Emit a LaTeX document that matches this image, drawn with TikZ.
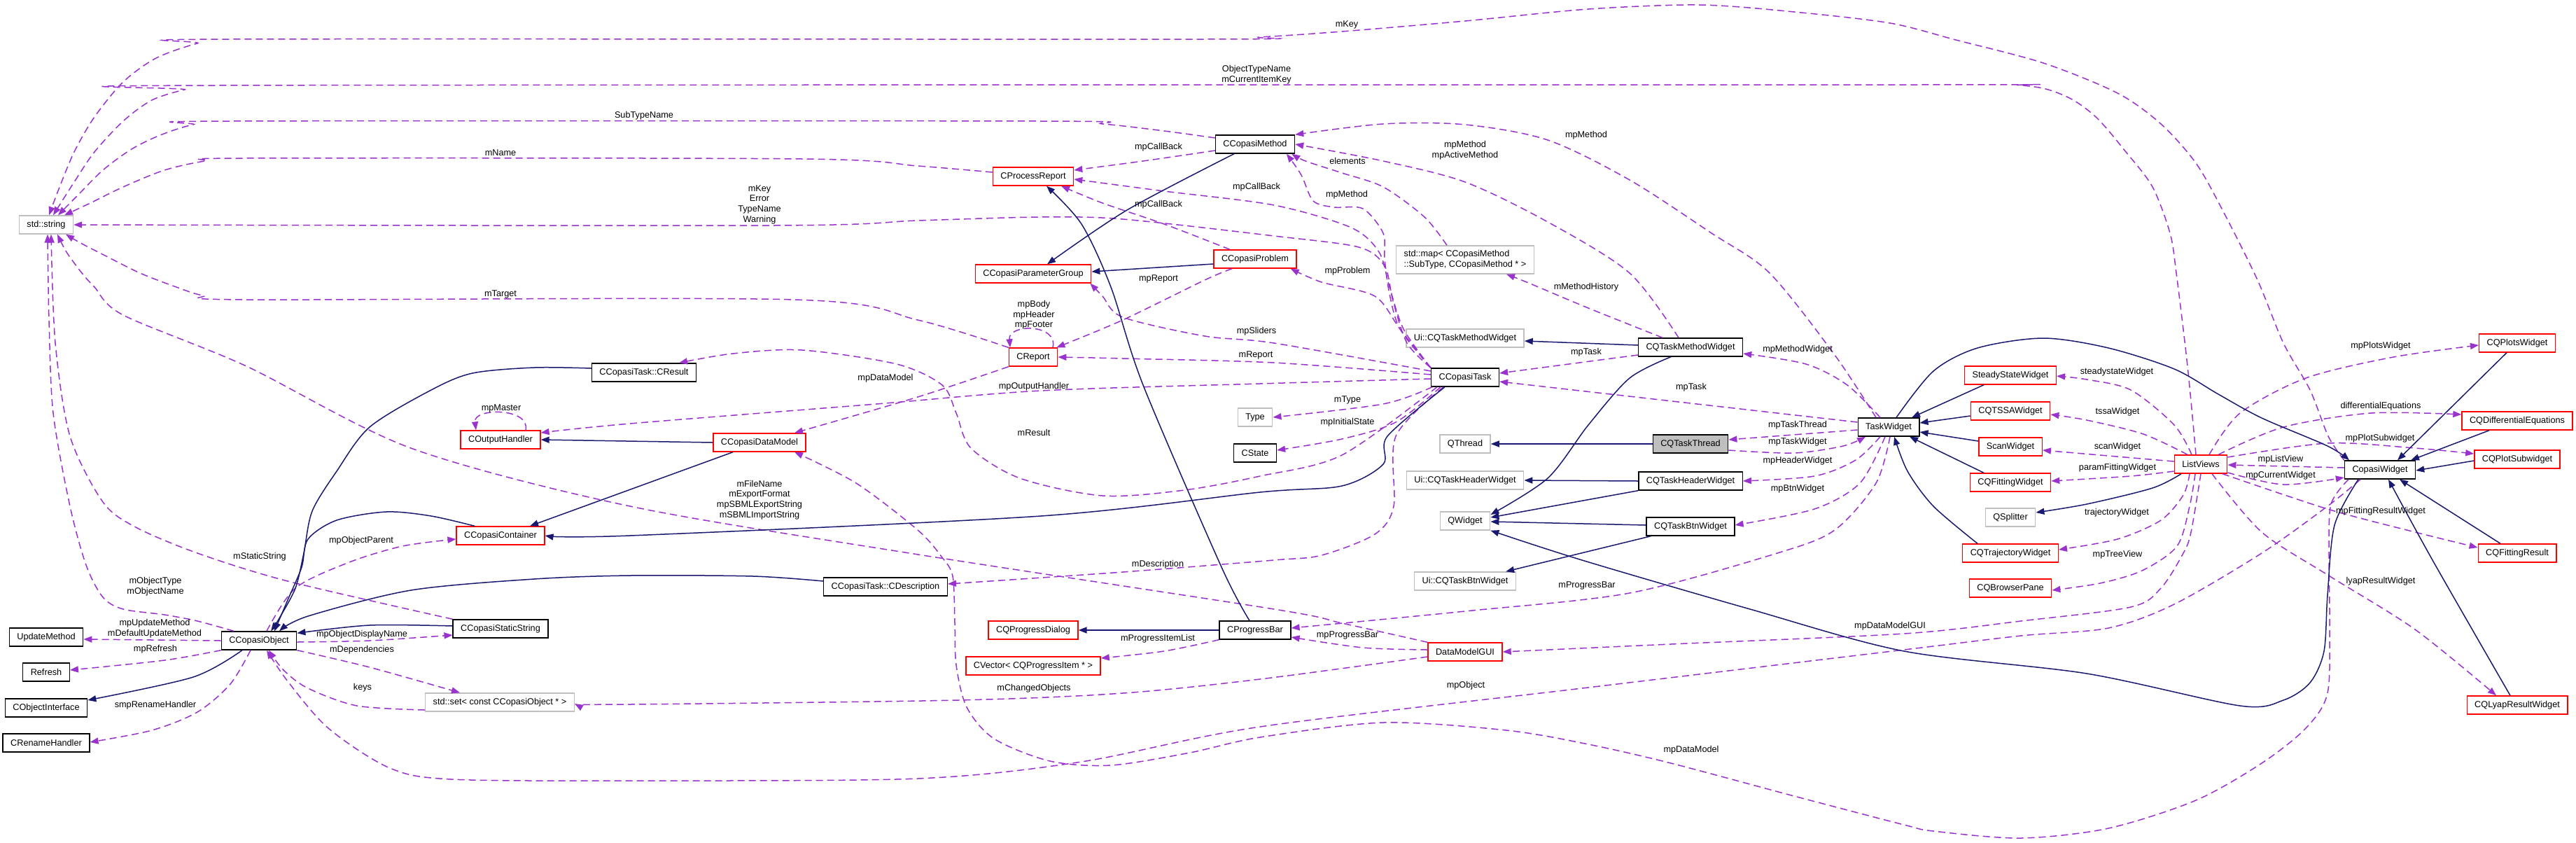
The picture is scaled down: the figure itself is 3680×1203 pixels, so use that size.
\documentclass[tikz,border=0pt]{standalone}
\usepackage{fontspec}
\setmainfont{Liberation Sans}
\usetikzlibrary{arrows.meta}
\definecolor{useC}{HTML}{9A32CD}
\definecolor{inhC}{HTML}{191970}
\definecolor{grayB}{HTML}{BFBFBF}
\newcommand\dxfont{\fontsize{12.7}{14.7}\selectfont}
\begin{document}
\begin{tikzpicture}[x=1pt,y=-1pt,
  boxbase/.style={draw, rectangle, line width=1.4pt, minimum height=26pt, inner xsep=11pt, inner ysep=0pt, font=\dxfont, fill=white},
  blkbox/.style={boxbase, draw=black},
  redbox/.style={boxbase, draw=red},
  graybox/.style={boxbase, draw=grayB},
  lbl/.style={font=\dxfont, align=center, inner sep=0pt},
  useedge/.style={draw=useC, line width=1.5pt, dash pattern=on 10pt off 6pt, -{Triangle[length=12pt,width=9pt]}},
  inhedge/.style={draw=inhC, line width=1.5pt, -{Triangle[length=12pt,width=9pt]}},
]
\fill[white] (0,0) rectangle (3680,1203);
\useasboundingbox (0,0) rectangle (3680,1203);

% ---------------- nodes ----------------
\node[graybox] (str) at (66,321) {std::string};
\node[blkbox] (meth) at (1793,206) {CCopasiMethod};
\node[redbox] (procrep) at (1476,252) {CProcessReport};
\node[redbox] (pgroup) at (1476,391) {CCopasiParameterGroup};
\node[redbox] (prob) at (1793,370) {CCopasiProblem};
\node[graybox, align=left, minimum height=40pt] (map) at (2093,371) {std::map< CCopasiMethod\\::SubType, CCopasiMethod * >};
\node[blkbox] (result) at (920,532) {CCopasiTask::CResult};
\node[redbox] (outh) at (715,628) {COutputHandler};
\node[redbox] (cont) at (715,765) {CCopasiContainer};
\node[redbox] (report) at (1476,510) {CReport};
\node[redbox] (dm) at (1085,632) {CCopasiDataModel};
\node[graybox] (type) at (1793,596) {Type};
\node[blkbox] (state) at (1793,647) {CState};
\node[graybox] (uimeth) at (2093,483) {Ui::CQTaskMethodWidget};
\node[blkbox] (tmw) at (2415,496) {CQTaskMethodWidget};
\node[blkbox] (task) at (2093,539) {CCopasiTask};
\node[graybox] (qthread) at (2093,634) {QThread};
\node[blkbox, fill=grayB] (thread) at (2415,634) {CQTaskThread};
\node[blkbox] (tw) at (2698,610) {TaskWidget};
\node[graybox] (uihead) at (2093,686) {Ui::CQTaskHeaderWidget};
\node[blkbox] (thw) at (2415,687) {CQTaskHeaderWidget};
\node[graybox] (qwidget) at (2093,744) {QWidget};
\node[blkbox] (tbw) at (2415,752) {CQTaskBtnWidget};
\node[redbox] (plots) at (3596,490) {CQPlotsWidget};
\node[redbox] (ssw) at (2872,536) {SteadyStateWidget};
\node[redbox] (tssa) at (2872,587) {CQTSSAWidget};
\node[redbox] (de) at (3596,601) {CQDifferentialEquations};
\node[redbox] (scan) at (2872,638) {ScanWidget};
\node[redbox] (lv) at (3144,663) {ListViews};
\node[redbox] (psub) at (3596,656) {CQPlotSubwidget};
\node[blkbox] (cw) at (3400,671) {CopasiWidget};
\node[redbox] (fitw) at (2872,689) {CQFittingWidget};
\node[graybox] (split) at (2872,739) {QSplitter};
\node[redbox] (traj) at (2872,790) {CQTrajectoryWidget};
\node[redbox] (fitres) at (3596,790) {CQFittingResult};
\node[redbox] (browser) at (2872,840) {CQBrowserPane};
\node[redbox] (lyap) at (3596,1007) {CQLyapResultWidget};
\node[blkbox] (upd) at (66,910) {UpdateMethod};
\node[blkbox] (obj) at (370,915) {CCopasiObject};
\node[blkbox] (sstr) at (715,898) {CCopasiStaticString};
\node[blkbox] (refresh) at (66,960) {Refresh};
\node[blkbox] (objint) at (66,1011) {CObjectInterface};
\node[graybox] (set) at (714,1003) {std::set< const CCopasiObject * >};
\node[blkbox] (rename) at (66,1061) {CRenameHandler};
\node[blkbox] (desc) at (1265,838) {CCopasiTask::CDescription};
\node[redbox] (pdialog) at (1476,900) {CQProgressDialog};
\node[blkbox] (pbar) at (1793,900) {CProgressBar};
\node[redbox] (cvec) at (1476,951) {CVector< CQProgressItem * >};
\node[graybox] (uibtn) at (2093,830) {Ui::CQTaskBtnWidget};
\node[redbox] (dmgui) at (2093,931) {DataModelGUI};

% ---------------- usage edges (dashed) ----------------
\draw[useedge] plot[smooth,tension=0.5] coordinates {(cw.north west) (3326,623) (3300,557) (3262,490) (3225,400) (3175,300) (3137,233) (3087,177) (3025,133) (2919,90) (2794,57) (2700,33) (2563,17) (2428,7) (2269,13) (2093,30) (1917,45) (1800,53) (1721,56) (330,56) (282,62) (223,83) (176,117) (135,167) (106,217) (84,270) ([xshift=4pt]str.north)};
\draw[useedge] plot[smooth,tension=0.5] coordinates {([xshift=-7pt]lv.north) (3125,523) (3109,390) (3100,333) (3075,267) (3037,217) (2994,167) (2950,137) (2887,122) (2700,121) (305,122) (264,128) (217,143) (176,173) (135,217) (106,260) ([xshift=10pt]str.north)};
\draw[useedge] plot[smooth,tension=0.5] coordinates {([yshift=9pt]meth.west) (1663,187) (1575,177) (1487,173) (330,173) (276,178) (229,193) (188,213) (147,243) (110,280) ([xshift=17pt]str.north)};
\draw[useedge] plot[smooth,tension=0.5] coordinates {([yshift=6pt]procrep.west) (1311,237) (1146,227) (350,226) (293,230) (235,243) (176,267) (129,290) ([xshift=26pt]str.north)};
\draw[useedge] plot[smooth,tension=0.5] coordinates {(task.north west) (2010,490) (1990,430) (1978,380) (1941,353) (1820,337) (1604,313) (1487,310) (1311,315) (1105,322) (str.east)};
\draw[useedge] plot[smooth,tension=0.5] coordinates {([yshift=-9pt]meth.west) (1633,230) ([yshift=9pt]procrep.east)};
\draw[useedge] plot[smooth,tension=0.5] coordinates {(task.north west) (2005,470) (1985,410) (1970,360) (1930,325) (1820,293) (1663,273) ([yshift=-4pt]procrep.east)};
\draw[useedge] plot[smooth,tension=0.5] coordinates {([xshift=-36pt]prob.north) (1663,320) (1575,290) ([xshift=40pt]procrep.south)};
\draw[useedge] plot[smooth,tension=0.5] coordinates {([xshift=-33pt]prob.south) (1721,400) (1604,457) ([xshift=-2pt]report.north east)};
\draw[useedge] plot[smooth,tension=0.5] coordinates {(task.north west) (2000,470) (1964,423) (1888,403) ([xshift=-9pt]prob.south east)};
\draw[useedge] plot[smooth,tension=0.5] coordinates {(task.north west) (2000,470) (1985,420) (1978,370) (1976,333) (1947,298) (1906,296) (1876,287) (1859,250) ([xshift=45pt]meth.south)};
\draw[useedge] plot[smooth,tension=0.5] coordinates {([xshift=-26pt]map.north) (2035,310) (1976,267) (1917,247) (1865,230) ([xshift=-5pt]meth.south east)};
\draw[useedge] plot[smooth,tension=0.5] coordinates {([xshift=-17pt]tmw.north) (2328,390) (2211,317) (2093,260) (1976,230) (meth.east)};
\draw[useedge] plot[smooth,tension=0.5] coordinates {([xshift=-18pt]tw.north) (2621,507) (2528,390) (2445,333) (2328,257) (2211,200) (2093,178) (1976,177) (meth.north east)};
\draw[useedge] plot[smooth,tension=0.5] coordinates {([xshift=-40pt]tmw.north) (2269,440) (2181,403) ([xshift=59pt]map.south)};
\draw[useedge] plot[smooth,tension=0.5] coordinates {([yshift=9pt]task.west) (1820,490) (1721,480) (1604,453) (1575,423) ([xshift=-2pt]pgroup.south east)};
\draw[useedge] plot[smooth,tension=0.5] coordinates {([yshift=4pt]task.west) (1820,518) (1604,512) (report.east)};
\draw[useedge] plot[smooth,tension=0.5] coordinates {([yshift=-2pt]task.west) (1800,548) (1487,558) (1252,577) (900,605) ([yshift=10pt]outh.east)};
\draw[useedge] plot[smooth,tension=0.5] coordinates {([xshift=-47pt]task.south) (1976,577) (type.east)};
\draw[useedge] plot[smooth,tension=0.5] coordinates {([xshift=-35pt]task.south) (1994,603) (1917,627) ([yshift=4pt]state.east)};
\draw[useedge] ([yshift=-11pt]tmw.west) -- ([yshift=6pt]task.east);
\draw[useedge] ([yshift=7pt]tw.west) -- ([yshift=-6pt]task.east);
\draw[useedge] plot[smooth,tension=0.5] coordinates {([xshift=-12pt]tw.north) (2639,550) (2580,520) ([yshift=-9pt]tmw.east)};
\draw[useedge] ([yshift=-4pt]tw.west) -- ([yshift=6pt]thread.east);
\draw[useedge] plot[smooth,tension=0.5] coordinates {([yshift=-9pt]thread.east) (2563,647) (2633,637) ([xshift=-33pt]tw.south)};
\draw[useedge] plot[smooth,tension=0.5] coordinates {([xshift=-12pt]tw.south) (2651,657) (2592,680) (thw.east)};
\draw[useedge] plot[smooth,tension=0.5] coordinates {([xshift=-5pt]tw.south) (2657,690) (2592,727) ([yshift=2pt]tbw.east)};
\draw[useedge] plot[smooth,tension=0.5] coordinates {([xshift=2pt]tw.south) (2680,690) (2621,757) (2539,790) (2328,847) (2093,873) ([yshift=3pt]pbar.east)};
\draw[useedge] ([xshift=28pt]report.north) .. controls (1512,462) and (1440,462) .. ([xshift=-33pt]report.north);
\draw[useedge] plot[smooth,tension=0.5] coordinates {(report.north west) (1311,457) (1135,428) (352,428) (290,422) (252,410) (200,390) (150,365) (115,347) ([xshift=28pt]str.south)};
\draw[useedge] plot[smooth,tension=0.5] coordinates {(report.south west) (1311,567) ([xshift=50pt]dm.north)};
\draw[useedge] plot[smooth,tension=0.5] coordinates {([xshift=-40pt]task.south) (1917,650) (1800,680) (1692,700) (1575,708) (1457,683) (1387,640) (1366,590) (1346,550) (1281,520) (1146,500) (1047,505) ([xshift=50pt]result.north)};
\draw[useedge] plot[smooth,tension=0.5] coordinates {(dmgui.north west) (1917,890) (1820,870) (1299,790) (900,723) (587,640) (352,523) (176,450) (135,410) (117,390) (95,360) ([xshift=16pt]str.south)};
\draw[useedge] plot[smooth,tension=0.5] coordinates {([xshift=-36pt]obj.north) (282,887) (235,878) (176,870) (147,853) (123,807) (100,723) (76,590) (70,457) ([xshift=2pt]str.south)};
\draw[useedge] plot[smooth,tension=0.5] coordinates {(sstr.north west) (411,830) (282,790) (194,753) (147,717) (100,623) (79,490) ([xshift=7pt]str.south)};
\draw[useedge] plot[smooth,tension=0.5] coordinates {([xshift=11pt]obj.north) (422,840) (499,803) (575,780) ([yshift=-5pt]cont.west)};
\draw[useedge] plot[smooth,tension=0.5] coordinates {([yshift=-2pt]obj.east) (528,915) ([yshift=-9pt]sstr.west)};
\draw[useedge] plot[smooth,tension=0.5] coordinates {(obj.south east) (528,953) ([xshift=-57pt]set.north)};
\draw[useedge] plot[smooth,tension=0.5] coordinates {([yshift=-11pt]set.west) (510,1008) (440,983) (405,957) ([xshift=14pt]obj.south)};
\draw[useedge] (obj.west) -- ([yshift=-3pt]upd.east);
\draw[useedge] plot[smooth,tension=0.5] coordinates {(obj.south west) (235,943) ([yshift=3pt]refresh.east)};
\draw[useedge] plot[smooth,tension=0.5] coordinates {([xshift=-12pt]obj.south) (329,977) (282,1017) (217,1043) ([yshift=1pt]rename.east)};
\draw[useedge] ([xshift=36pt]outh.north) .. controls (758,582) and (676,582) .. ([xshift=-35pt]outh.north);
\draw[useedge] plot[smooth,tension=0.5] coordinates {([xshift=-31pt]task.south) (1994,623) (1991,723) (1964,763) (1888,793) (1820,800) (1604,817) ([yshift=4pt]desc.east)};
\draw[useedge] plot[smooth,tension=0.5] coordinates {([yshift=-7pt]dmgui.west) (1800,970) (1604,990) (1369,1000) (900,1006) ([yshift=-2pt]set.east)};
\draw[useedge] plot[smooth,tension=0.5] coordinates {([yshift=3pt]dmgui.west) (1947,925) ([yshift=-10pt]pbar.east)};
\draw[useedge] plot[smooth,tension=0.5] coordinates {(lv.south) (3130,760) (3119,790) (3087,840) (3044,867) (2887,887) (2720,905) (2387,920) (dmgui.east)};
\draw[useedge] plot[smooth,tension=0.5] coordinates {([xshift=-28pt]cw.south) (3325,723) (3231,790) (3106,863) (3012,897) (2887,908) (2720,928) (2260,983) (1800,1038) (1545,1088) (1311,1112) (900,1115) (645,1113) (557,1097) (469,1040) (411,973) ([xshift=11pt]obj.south)};
\draw[useedge] plot[smooth,tension=0.5] coordinates {([xshift=-45pt]cw.south) (3330,720) (3327,790) (3328,890) (3325,990) (3294,1040) (3231,1090) (3137,1143) (3012,1183) (2887,1197) (2762,1187) (2720,1178) (2563,1137) (2387,1090) (2269,1063) (2152,1043) (1976,1032) (1800,1053) (1700,1075) (1587,1093) (1500,1087) (1420,1055) (1381,1010) (1366,950) (1364,890) (1361,823) (1345,795) (1311,757) (1223,690) ([xshift=50pt]dm.south)};
\draw[useedge] plot[smooth,tension=0.5] coordinates {([xshift=-13pt]lv.north) (3106,607) (3044,557) (2981,542) ([yshift=-1pt]ssw.east)};
\draw[useedge] plot[smooth,tension=0.5] coordinates {([xshift=-19pt]lv.north) (3062,620) (2981,600) ([yshift=-5pt]tssa.east)};
\draw[useedge] ([yshift=4pt]lv.west) -- ([yshift=-5pt]scan.east);
\draw[useedge] plot[smooth,tension=0.5] coordinates {([yshift=-10pt]lv.west) (3044,680) ([yshift=2pt]fitw.east)};
\draw[useedge] plot[smooth,tension=0.5] coordinates {([xshift=-16pt]lv.south) (3119,707) (3087,743) (3025,770) ([yshift=5pt]traj.east)};
\draw[useedge] plot[smooth,tension=0.5] coordinates {([xshift=-8pt]lv.south) (3128,723) (3110,780) (3060,815) (3000,833) ([yshift=-3pt]browser.east)};
\draw[useedge] plot[smooth,tension=0.5] coordinates {([xshift=12pt]lv.north) (3200,590) (3294,540) (3419,510) ([yshift=-3pt]plots.west)};
\draw[useedge] plot[smooth,tension=0.5] coordinates {([xshift=25pt]lv.north) (3262,610) (3387,590) ([yshift=9pt]de.west)};
\draw[useedge] plot[smooth,tension=0.5] coordinates {([yshift=10pt]lv.east) (3325,633) (3450,640) ([yshift=8pt]psub.west)};
\draw[useedge] ([yshift=3pt]cw.west) -- ([yshift=-1pt]lv.east);
\draw[useedge] plot[smooth,tension=0.5] coordinates {([yshift=-12pt]lv.east) (3262,692) ([yshift=-11pt]cw.west)};
\draw[useedge] plot[smooth,tension=0.5] coordinates {([xshift=31pt]lv.south) (3325,727) (3450,760) ([yshift=8pt]fitres.west)};
\draw[useedge] plot[smooth,tension=0.5] coordinates {([xshift=16pt]lv.south) (3231,760) (3325,821) (3450,899) ([xshift=-30pt]lyap.north)};
\draw[useedge] plot[smooth,tension=0.5] coordinates {(pbar.south west) (1663,930) ([yshift=11pt]cvec.east)};

% ---------------- inheritance edges (solid) ----------------
\draw[inhedge] plot[smooth,tension=0.5] coordinates {([xshift=-30pt]meth.south) (1610,300) ([xshift=20pt]pgroup.north)};
\draw[inhedge] ([yshift=-7pt]prob.west) -- ([yshift=3pt]pgroup.east);
\draw[inhedge] plot[smooth,tension=0.5] coordinates {([xshift=-8pt]pbar.north) (1745,810) (1633,550) (1587,410) (1545,320) ([xshift=19pt]procrep.south)};
\draw[inhedge] (pbar.west) -- (pdialog.east);
\draw[inhedge] plot[smooth,tension=0.5] coordinates {([yshift=6pt]result.west) (763,525) (675,533) (616,557) (528,610) (481,673) (446,730) (434,790) (422,840) (399,883) ([xshift=17pt]obj.north)};
\draw[inhedge] plot[smooth,tension=0.5] coordinates {([xshift=-37pt]cont.north) (616,737) (552,731) (481,743) (440,770) (431,810) (411,857) ([xshift=22pt]obj.north)};
\draw[inhedge] ([xshift=-38pt]dm.south) -- ([xshift=42pt]cont.north);
\draw[inhedge] (dm.west) -- (outh.east);
\draw[inhedge] plot[smooth,tension=0.5] coordinates {([xshift=-29pt]task.south) (1982,623) (1976,663) (1917,694) (1800,703) (1487,737) (900,765) (cont.east)};
\draw[inhedge] plot[smooth,tension=0.5] coordinates {([yshift=4pt]sstr.west) (528,893) ([yshift=-3pt]obj.north east)};
\draw[inhedge] plot[smooth,tension=0.5] coordinates {([yshift=8pt]desc.west) (1076,823) (900,822) (763,827) (587,843) (440,880) ([xshift=29pt]obj.north)};
\draw[inhedge] plot[smooth,tension=0.5] coordinates {([xshift=-24pt]obj.south) (276,967) ([yshift=11pt]objint.east)};
\draw[inhedge] ([yshift=3pt]tmw.west) -- ([yshift=-4pt]uimeth.east);
\draw[inhedge] plot[smooth,tension=0.5] coordinates {([xshift=-28pt]tmw.south) (2328,540) (2269,607) (2211,683) ([yshift=9pt]qwidget.east)};
\draw[inhedge] (thread.west) -- (qthread.east);
\draw[inhedge] (thw.west) -- (uihead.east);
\draw[inhedge] (thw.south west) -- ([yshift=5pt]qwidget.east);
\draw[inhedge] ([yshift=2pt]tbw.west) -- ([yshift=-1pt]qwidget.east);
\draw[inhedge] ([xshift=7pt]tbw.south west) -- ([xshift=-15pt]uibtn.north east);
\draw[inhedge] plot[smooth,tension=0.5] coordinates {([xshift=-31pt]cw.south) (3335,750) (3325,850) (3320,930) (3300,975) (3262,1000) (3200,1008) (2981,962) (2720,930) (2500,870) (2260,800) (qwidget.south east)};
\draw[inhedge] plot[smooth,tension=0.5] coordinates {([xshift=11pt]tw.north) (2762,530) (2825,497) (2919,483) (3012,497) (3106,527) (3169,563) (3231,597) (3325,637) ([xshift=-44pt]cw.north)};
\draw[inhedge] ([xshift=-38pt]ssw.south) -- ([xshift=33pt]tw.north);
\draw[inhedge] ([yshift=-7pt]tssa.west) -- ([yshift=6pt]tw.east);
\draw[inhedge] ([yshift=8pt]scan.west) -- ([yshift=-7pt]tw.east);
\draw[inhedge] ([xshift=-38pt]fitw.north) -- ([xshift=30pt]tw.south);
\draw[inhedge] plot[smooth,tension=0.5] coordinates {([xshift=-47pt]traj.north) (2762,723) (2725,673) ([xshift=8pt]tw.south)};
\draw[inhedge] plot[smooth,tension=0.5] coordinates {([xshift=-28pt]lv.south) (3075,697) (2981,720) ([yshift=7pt]split.east)};
\draw[inhedge] ([xshift=-15pt]plots.south) -- ([xshift=25pt]cw.north);
\draw[inhedge] ([xshift=-40pt]de.south) -- ([xshift=44pt]cw.north);
\draw[inhedge] ([yshift=-2pt]psub.west) -- ([yshift=-1pt]cw.east);
\draw[inhedge] ([xshift=-24pt]fitres.north) -- ([xshift=28pt]cw.south);
\draw[inhedge] plot[smooth,tension=0.5] coordinates {([xshift=-10pt]lyap.north) (3475,800) ([xshift=12pt]cw.south)};

% ---------------- labels ----------------
\node[lbl] (l1) at (1924,35) {mKey};
\node[lbl] (l2) at (1795,107) {ObjectTypeName\\mCurrentItemKey};
\node[lbl] (l3) at (920,165) {SubTypeName};
\node[lbl] (l4) at (715,218) {mName};
\node[lbl] (l5) at (1085,292) {mKey\\Error\\TypeName\\Warning};
\node[lbl] (l6) at (1655,210) {mpCallBack};
\node[lbl] (l7) at (1795,267) {mpCallBack};
\node[lbl] (l8) at (1655,292) {mpCallBack};
\node[lbl] (l9) at (1655,398) {mpReport};
\node[lbl] (l10) at (1925,387) {mpProblem};
\node[lbl] (l11) at (1924,278) {mpMethod};
\node[lbl] (l12) at (1925,230) {elements};
\node[lbl] (l13) at (2093,215) {mpMethod\\mpActiveMethod};
\node[lbl] (l14) at (2266,193) {mpMethod};
\node[lbl] (l15) at (2266,410) {mMethodHistory};
\node[lbl] (l16) at (1795,473) {mpSliders};
\node[lbl] (l17) at (1794,507) {mReport};
\node[lbl] (l18) at (1477,552) {mpOutputHandler};
\node[lbl] (l19) at (1925,571) {mType};
\node[lbl] (l20) at (1925,603) {mpInitialState};
\node[lbl] (l21) at (2266,503) {mpTask};
\node[lbl] (l22) at (2416,553) {mpTask};
\node[lbl] (l23) at (2568,499) {mpMethodWidget};
\node[lbl] (l24) at (2568,607) {mpTaskThread};
\node[lbl] (l25) at (2568,631) {mpTaskWidget};
\node[lbl] (l26) at (2568,658) {mpHeaderWidget};
\node[lbl] (l27) at (2568,698) {mpBtnWidget};
\node[lbl] (l28) at (2267,836) {mProgressBar};
\node[lbl] (l29) at (1477,450) {mpBody\\mpHeader\\mpFooter};
\node[lbl] (l30) at (715,420) {mTarget};
\node[lbl] (l31) at (1265,540) {mpDataModel};
\node[lbl] (l32) at (1477,618) {mResult};
\node[lbl] (l33) at (1085,714) {mFileName\\mExportFormat\\mpSBMLExportString\\mSBMLImportString};
\node[lbl] (l34) at (222,838) {mObjectType\\mObjectName};
\node[lbl] (l35) at (371,795) {mStaticString};
\node[lbl] (l36) at (516,772) {mpObjectParent};
\node[lbl] (l37) at (517,906) {mpObjectDisplayName};
\node[lbl] (l38) at (517,928) {mDependencies};
\node[lbl] (l39) at (518,982) {keys};
\node[lbl] (l40) at (221,898) {mpUpdateMethod\\mDefaultUpdateMethod};
\node[lbl] (l41) at (222,927) {mpRefresh};
\node[lbl] (l42) at (222,1007) {smpRenameHandler};
\node[lbl] (l43) at (716,583) {mpMaster};
\node[lbl] (l44) at (1654,806) {mDescription};
\node[lbl] (l45) at (1477,983) {mChangedObjects};
\node[lbl] (l46) at (1925,907) {mpProgressBar};
\node[lbl] (l47) at (2700,894) {mpDataModelGUI};
\node[lbl] (l48) at (2094,979) {mpObject};
\node[lbl] (l49) at (2416,1071) {mpDataModel};
\node[lbl] (l50) at (3024,531) {steadystateWidget};
\node[lbl] (l51) at (3025,588) {tssaWidget};
\node[lbl] (l52) at (3025,638) {scanWidget};
\node[lbl] (l53) at (3025,668) {paramFittingWidget};
\node[lbl] (l54) at (3024,732) {trajectoryWidget};
\node[lbl] (l55) at (3025,792) {mpTreeView};
\node[lbl] (l56) at (3401,494) {mpPlotsWidget};
\node[lbl] (l57) at (3401,580) {differentialEquations};
\node[lbl] (l58) at (3400,626) {mpPlotSubwidget};
\node[lbl] (l59) at (3258,656) {mpListView};
\node[lbl] (l60) at (3258,679) {mpCurrentWidget};
\node[lbl] (l61) at (3401,730) {mpFittingResultWidget};
\node[lbl] (l62) at (3401,830) {lyapResultWidget};
\node[lbl] (l63) at (1654,912) {mProgressItemList};
\end{tikzpicture}
\end{document}
